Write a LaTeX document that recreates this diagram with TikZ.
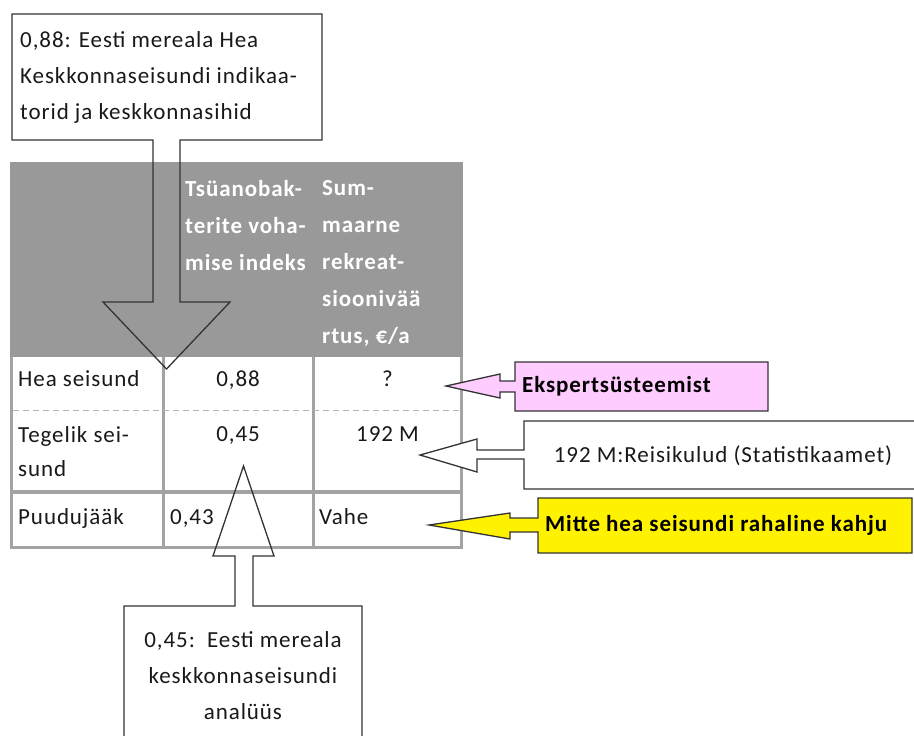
\documentclass[tikz,border=0pt]{standalone}
\usepackage{fontspec}
\setmainfont{Carlito}[LetterSpace=4]
\begin{document}
\begin{tikzpicture}[x=1pt,y=-1pt,
  txt/.style={font=\fontsize{23}{36}\selectfont, inner sep=0pt, text=black!90},
  hdr/.style={font=\fontsize{23}{37}\selectfont\bfseries, inner sep=0pt, text=white, align=left},
  boldtxt/.style={font=\fontsize{23}{36}\selectfont\bfseries, inner sep=0pt, text=black},
  gridline/.style={draw=black!36, line width=3pt},
  callout/.style={draw=black!80, line width=1.3pt, line join=miter}]
\useasboundingbox (0,0) rectangle (914,736);
\clip (0,0) rectangle (914,736);

% table header band
\fill[black!40] (10,162) rectangle (463,357);
\node[hdr, anchor=north west] (h2) at (185,180) {Tsüanobak-\\terite voha-\\mise indeks};
\node[hdr, anchor=north west] (h3) at (322,180) {Sum-\\maarne\\rekreat-\\sioonivää\\rtus, €/a};

% table rules
\draw[gridline] (11.5,357) -- (11.5,548.5);
\draw[gridline] (163,357) -- (163,548.5);
\draw[gridline] (313,357) -- (313,548.5);
\draw[gridline] (461.5,357) -- (461.5,548.5);
\draw[gridline, line width=4pt] (10,492) -- (463,492);
\draw[gridline] (10,547) -- (463,547);
\draw[black!30, line width=1pt, dash pattern=on 6pt off 4pt] (13,410) -- (460,410);

% table cells
\node[txt, anchor=mid west] (r1) at (18,384) {Hea seisund};
\node[txt, anchor=mid] (r1c2) at (238,384) {0,88};
\node[txt, anchor=mid] (r1c3) at (387.5,384) {?};
\node[txt, anchor=mid west] (r2a) at (18,440) {Tegelik sei-};
\node[txt, anchor=mid west] (r2b) at (18,474) {sund};
\node[txt, anchor=mid] (r2c2) at (238,439) {0,45};
\node[txt, anchor=mid] (r2c3) at (387.5,439) {192 M};
\node[txt, anchor=mid west] (r3) at (18,522) {Puudujääk};
\node[txt, anchor=mid west] (r3c2) at (170,522) {0,43};
\node[txt, anchor=mid west] (r3c3) at (319,522) {Vahe};

% callout from the top box
\draw[callout] (12,14) -- (322,14) -- (322,140) -- (180,140) -- (180,302)
  -- (230,302) -- (166.5,369) -- (103,302) -- (153,302) -- (153,140)
  -- (12,140) -- cycle;
\node[txt, anchor=north west, align=left] (top) at (20,31)
  {0,88: Eesti mereala Hea\\Keskkonnaseisundi indikaa-\\torid ja keskkonnasihid};

% callout from the bottom box
\draw[callout] (124,606) -- (235,606) -- (235,556) -- (213,556) -- (243.5,466)
  -- (274,556) -- (253,556) -- (253,606) -- (362,606) -- (362,760)
  -- (124,760) -- cycle;
\node[txt, anchor=north, align=center] (bot) at (243,631)
  {0,45:\ \ Eesti mereala\\keskkonnaseisundi\\analüüs};

% pink callout
\filldraw[callout, fill={rgb,255:red,255;green,204;blue,255}]
  (515,362) -- (768,362) -- (768,411) -- (515,411) -- (515,392) -- (500,392)
  -- (500,398) -- (446,386) -- (500,374) -- (500,381) -- (515,381) -- cycle;
\node[boldtxt, anchor=mid west] (pink) at (522,390) {Ekspertsüsteemist};

% white callout
\filldraw[callout, fill=white]
  (524,421) -- (930,421) -- (930,489) -- (524,489) -- (524,459) -- (477,459)
  -- (477,472) -- (420,455) -- (477,439) -- (477,450) -- (524,450) -- cycle;
\node[txt, anchor=mid] (stat) at (723,460) {192 M:Reisikulud (Statistikaamet)};

% yellow callout
\filldraw[callout, fill=yellow]
  (538,498) -- (912,498) -- (912,553) -- (538,553) -- (538,532) -- (510,532)
  -- (510,539) -- (429,525) -- (510,513) -- (510,518) -- (538,518) -- cycle;
\node[boldtxt, anchor=mid west] (loss) at (545,529) {Mitte hea seisundi rahaline kahju};
\end{tikzpicture}
\end{document}
